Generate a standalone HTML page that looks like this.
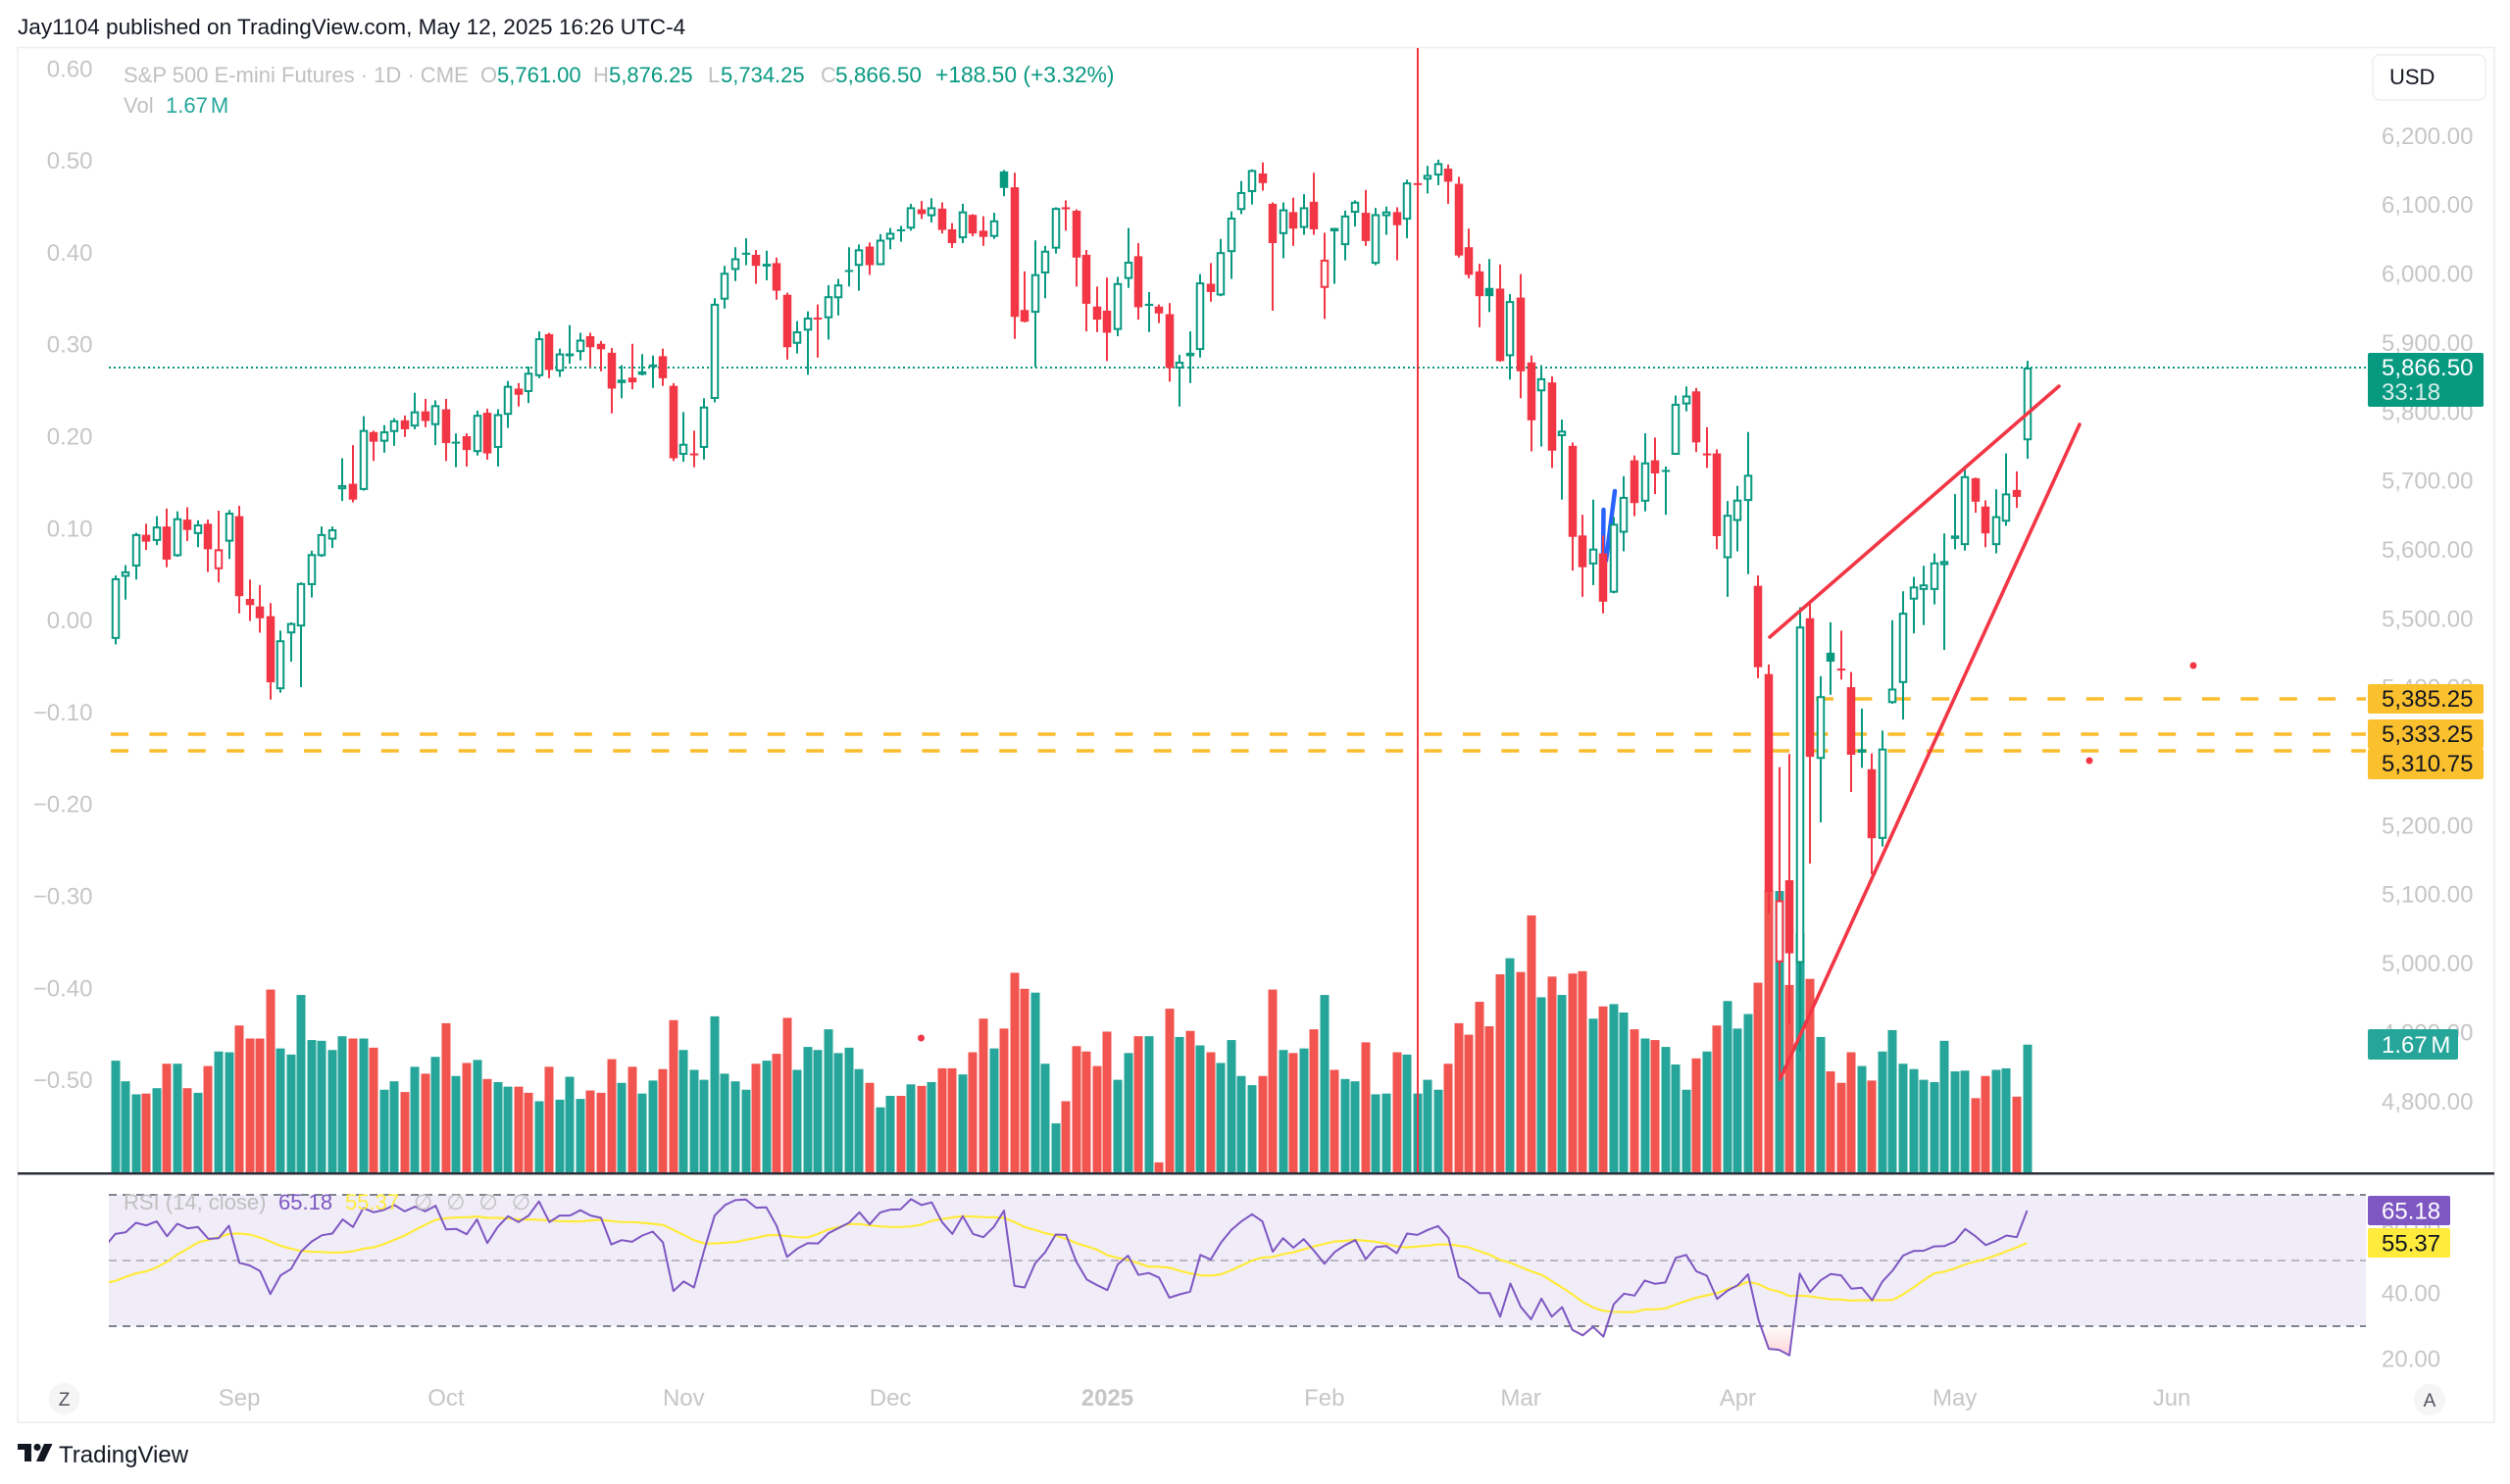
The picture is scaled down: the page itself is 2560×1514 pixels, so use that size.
<!DOCTYPE html>
<html lang="en">
<head>
<meta charset="utf-8">
<title>S&amp;P 500 E-mini Futures chart</title>
<style>
html,body{margin:0;padding:0;background:#fff;width:2560px;height:1514px;overflow:hidden}
svg{display:block;font-family:"Liberation Sans",sans-serif}
text{white-space:pre}
.lbl{fill:#c6c6c6;font-size:24px}
.lg{font-size:22px}
.gy{fill:#c0c0c0}
.gn{fill:#089981}
</style>
</head>
<body>
<svg id="chart" xmlns="http://www.w3.org/2000/svg" width="2560" height="1514" viewBox="0 0 2560 1514">
  <defs>
    <clipPath id="paneClip"><rect x="111" y="1200" width="2302" height="220"/></clipPath>
    <clipPath id="oversoldClip"><rect x="111" y="1353" width="2302" height="60"/></clipPath>
    <linearGradient id="oversoldFill" x1="0" y1="1353" x2="0" y2="1388" gradientUnits="userSpaceOnUse">
      <stop offset="0" stop-color="#f23645" stop-opacity="0.02"/>
      <stop offset="1" stop-color="#f23645" stop-opacity="0.25"/>
    </linearGradient>
  </defs>
  <text x="18" y="35" font-size="22.6" fill="#131722">Jay1104 published on TradingView.com, May 12, 2025 16:26 UTC-4</text>
  <rect x="18" y="48.5" width="2526" height="1402.5" fill="#fff" stroke="#eeeeee" stroke-width="1.5"/>
  <rect x="111" y="1219" width="2302" height="134" fill="#f0ecf8"/>
  <g id="axisLabels"></g>
  <g id="volumes"></g>
  <line x1="111" x2="2413" y1="749" y2="749" stroke="#fbbc2e" stroke-width="3.5" stroke-dasharray="18 21.4" stroke-dashoffset="-2"/>
  <line x1="111" x2="2413" y1="766" y2="766" stroke="#fbbc2e" stroke-width="3.5" stroke-dasharray="18 21.4" stroke-dashoffset="-2"/>
  <line x1="1852" x2="2413" y1="713" y2="713" stroke="#fbbc2e" stroke-width="3.5" stroke-dasharray="18 21.4"/>
  <line x1="111" x2="2413" y1="375" y2="375" stroke="#089981" stroke-width="2" stroke-dasharray="2 3"/>
  <path d="M1635.5 520 L1635 565 L1638 572 L1647 501" fill="none" stroke="#2962ff" stroke-width="4.5" stroke-linecap="round" stroke-linejoin="round"/>
  <g id="candles"></g>
  <line x1="1446" x2="1446" y1="49" y2="1197" stroke="#f23645" stroke-width="2"/>
  <line x1="1805" y1="650" x2="2100" y2="394" stroke="#f23645" stroke-width="3.6" stroke-linecap="round"/>
  <line x1="1816" y1="1100" x2="2121" y2="433" stroke="#f23645" stroke-width="3.6" stroke-linecap="round"/>
  <circle cx="2237" cy="679" r="3.5" fill="#f23645"/>
  <circle cx="2131" cy="776" r="3.5" fill="#f23645"/>
  <circle cx="939.5" cy="1059" r="3.5" fill="#f23645"/>
  <rect x="18" y="1196" width="2526" height="2.5" fill="#2a2e39"/>
  <g id="rsiPane" clip-path="url(#paneClip)">
    <line x1="111" x2="2413" y1="1219" y2="1219" stroke="#808390" stroke-width="2" stroke-dasharray="8 6"/>
    <line x1="111" x2="2413" y1="1286" y2="1286" stroke="#b9b7c2" stroke-width="2" stroke-dasharray="8 6"/>
    <line x1="111" x2="2413" y1="1353" y2="1353" stroke="#808390" stroke-width="2" stroke-dasharray="8 6"/>
    <path id="oversoldArea" fill="url(#oversoldFill)" clip-path="url(#oversoldClip)"/>
    <path id="rsiMaLine" fill="none" stroke="#ffeb3b" stroke-width="2.2" stroke-linejoin="round"/>
    <path id="rsiLine" fill="none" stroke="#7e57c2" stroke-width="2" stroke-linejoin="round"/>
  </g>

  <g class="lg">
    <text class="gy" x="126" y="84">S&amp;P 500 E-mini Futures · 1D · CME</text>
    <text class="gy" x="490" y="84">O</text>
    <text class="gn" x="507" y="84">5,761.00</text>
    <text class="gy" x="605" y="84">H</text>
    <text class="gn" x="621" y="84">5,876.25</text>
    <text class="gy" x="722" y="84">L</text>
    <text class="gn" x="735" y="84">5,734.25</text>
    <text class="gy" x="837" y="84">C</text>
    <text class="gn" x="852" y="84" font-size="22.6">5,866.50</text>
    <text class="gn" x="954" y="84" font-size="22.8">+188.50 (+3.32%)</text>
    <text class="gy" x="126" y="115">Vol</text>
    <text fill="#26a69a" x="169" y="115" word-spacing="-3">1.67 M</text>
  </g>
  <g class="lg">
    <text class="gy" x="126" y="1234">RSI (14, close)</text>
    <text fill="#7e57c2" x="284" y="1234">65.18</text>
    <text fill="#ffeb3b" x="352" y="1234">55.37</text>
    <text class="gy" x="422" y="1234" word-spacing="8">∅ ∅ ∅ ∅</text>
  </g>

  <g>
    <rect x="2420" y="56" width="115" height="46" rx="7" fill="#fff" stroke="#eeeeee" stroke-width="1.5"/>
    <text x="2437" y="86" font-size="22" fill="#131722">USD</text>
  </g>
  <g>
    <rect x="2415" y="360" width="118" height="55" rx="2" fill="#089981"/>
    <text x="2429" y="383" font-size="24" fill="#fff">5,866.50</text>
    <text x="2429" y="408" font-size="24" fill="#d6efe9">33:18</text>
  </g>
  <g>
    <rect x="2415" y="698" width="118" height="30" rx="2" fill="#fbc02d"/>
    <text x="2429" y="721" font-size="24" fill="#131722">5,385.25</text>
  </g>
  <g>
    <rect x="2415" y="764" width="118" height="31" rx="2" fill="#fbc02d"/>
    <text x="2429" y="787" font-size="24" fill="#131722">5,310.75</text>
  </g>
  <g>
    <rect x="2415" y="734" width="118" height="30" rx="2" fill="#fbc02d"/>
    <text x="2429" y="757" font-size="24" fill="#131722">5,333.25</text>
  </g>
  <g>
    <rect x="2415" y="1050" width="92" height="31" rx="2" fill="#26a69a"/>
    <text x="2429" y="1074" font-size="24" fill="#fff" word-spacing="-3">1.67 M</text>
  </g>
  <g>
    <rect x="2415" y="1220" width="84" height="30" rx="2" fill="#7e57c2"/>
    <text x="2429" y="1243.5" font-size="24" fill="#fff">65.18</text>
  </g>
  <g>
    <rect x="2415" y="1253" width="84" height="30" rx="2" fill="#ffeb3b"/>
    <text x="2429" y="1276.5" font-size="24" fill="#131722">55.37</text>
  </g>
  <g>
    <circle cx="65.5" cy="1427" r="16" fill="#f5f5f5"/>
    <text x="65.5" y="1434" font-size="19" text-anchor="middle" fill="#50535e">Z</text>
  </g>
  <g>
    <circle cx="2478" cy="1428" r="16" fill="#f5f5f5"/>
    <text x="2478" y="1435" font-size="19" text-anchor="middle" fill="#50535e">A</text>
  </g>
  <g>
    <g transform="translate(18,1467)" fill="#131722">
      <path d="M14 6H0v6h7v12h7V6Z"/>
      <circle cx="20" cy="9.5" r="3.6"/>
      <path d="M27 24h-8l8-18h8.5L27 24Z"/>
    </g>
    <text x="60" y="1492" font-size="24" fill="#131722">TradingView</text>
  </g>
</svg>
<script>
const opens = [5473,5563,5578,5624,5615,5636,5593,5646,5625,5640,
5574,5614,5651,5531,5520,5506,5400,5481,5491,5551,
5593,5617,5690,5698,5689,5773,5759,5773,5790,5781,
5803,5783,5806,5758,5767,5744,5801,5750,5798,5836,
5831,5854,5915,5861,5883,5889,5912,5901,5888,5844,
5852,5856,5871,5883,5840,5740,5742,5750,5821,5965,
6008,6032,6030,6017,6018,5972,5901,5920,5939,5938,
5967,6006,6014,6042,6015,6052,6065,6068,6096,6086,
6097,6067,6054,6088,6065,6056,6151,6128,5950,5946,
6003,6039,6099,6094,6030,5955,5949,5921,5995,6028,
5959,5955,5944,5865,5888,5892,5988,5971,6034,6095,
6121,6148,6104,6060,6092,6069,6107,5982,6069,6044,
6091,6091,6017,6086,6092,6081,6134,6139,6145,6155,
6133,6041,6006,5982,5981,5883,5968,5874,5832,5845,
5767,5753,5623,5581,5597,5540,5627,5732,5672,5732,
5718,5740,5813,5832,5742,5742,5590,5644,5673,5550,
5422,5004,5123,5003,5503,5299,5453,5430,5403,5308,
5284,5183,5380,5409,5530,5544,5544,5580,5618,5609,
5706,5665,5609,5643,5689,5761];
const highs = [5565,5580,5627,5640,5651,5662,5658,5664,5645,5646,
5659,5660,5666,5559,5551,5525,5485,5497,5555,5601,
5636,5636,5735,5754,5796,5775,5783,5793,5797,5830,
5821,5819,5821,5771,5771,5804,5807,5806,5847,5844,
5868,5919,5917,5894,5928,5917,5917,5905,5895,5870,
5901,5886,5884,5894,5844,5802,5775,5822,5967,6014,
6041,6054,6037,6036,6026,5975,5934,5948,5958,5986,
5995,6041,6045,6048,6060,6069,6072,6104,6108,6112,
6106,6076,6104,6089,6086,6091,6153,6149,6006,6051,
6043,6099,6109,6096,6037,5984,5997,5998,6069,6047,
5976,5958,5960,5885,5919,6002,6018,6053,6093,6137,
6154,6164,6106,6106,6113,6118,6149,6062,6069,6094,
6109,6124,6098,6100,6099,6139,6137,6159,6168,6161,
6143,6068,6017,6024,6016,5973,6002,5884,5870,5854,
5791,5758,5653,5675,5623,5650,5709,5739,5771,5765,
5723,5826,5839,5837,5780,5748,5673,5695,5773,5565,
5436,5287,5306,5519,5524,5419,5497,5485,5425,5372,
5307,5340,5500,5542,5563,5579,5597,5626,5683,5724,
5707,5674,5690,5742,5716,5876.25];
const lows = [5465,5530,5559,5602,5609,5577,5592,5615,5606,5570,
5555,5589,5510,5499,5482,5385,5395,5440,5403,5533,
5592,5605,5673,5671,5688,5731,5743,5753,5766,5777,
5780,5754,5731,5722,5723,5739,5733,5723,5779,5810,
5815,5851,5851,5853,5872,5877,5867,5861,5800,5822,
5835,5855,5837,5840,5731,5730,5722,5733,5816,5952,
5992,6015,5988,5993,5965,5878,5887,5856,5881,5907,
5942,5984,5978,6001,6015,6038,6049,6065,6082,6077,
6061,6040,6047,6057,6043,6053,6115,5908,5932,5867,
5967,6032,6065,5984,5919,5918,5876,5912,5982,5936,
5918,5931,5846,5810,5844,5881,5962,5970,5995,6089,
6103,6123,5949,6025,6043,6059,6059,5937,5988,6022,
6071,6043,6015,6059,6022,6054,6131,6119,6131,6104,
6026,5996,5925,5947,5875,5849,5822,5745,5752,5721,
5675,5572,5534,5551,5510,5539,5600,5651,5658,5683,
5653,5740,5803,5744,5721,5603,5534,5600,5567,5416,
5075,4832,4915,4875,5147,5207,5392,5414,5251,5286,
5132,5172,5379,5356,5481,5493,5523,5457,5603,5601,
5656,5606,5597,5637,5663,5734.25];
const closes = [5561,5571,5625,5614,5636,5588,5648,5631,5639,5603,
5603,5656,5535,5522,5503,5410,5471,5496,5554,5596,
5625,5632,5696,5675,5776,5759,5774,5790,5777,5803,
5789,5812,5757,5759,5747,5798,5742,5799,5840,5827,
5859,5909,5863,5887,5887,5907,5896,5893,5836,5849,
5845,5861,5867,5851,5735,5756,5741,5810,5959,6004,
6025,6033,6014,6013,5978,5896,5919,5939,5937,5970,
5987,6008,6038,6015,6052,6062,6067,6099,6089,6099,
6066,6047,6093,6061,6056,6080,6127,5940,5933,6002,
6036,6098,6096,6026,5959,5936,5917,5989,6020,5954,
5956,5945,5866,5875,5883,5990,5976,6034,6084,6121,
6153,6134,6047,6096,6068,6099,6067,6023,6064,6087,
6107,6050,6089,6093,6073,6135,6132,6146,6163,6136,
6029,6001,5970,5970,5876,5963,5861,5790,5851,5746,
5775,5621,5577,5604,5527,5640,5679,5670,5729,5713,
5716,5814,5826,5758,5740,5622,5653,5675,5711,5432,
5106,5094,5017,5491,5302,5390,5440,5428,5305,5313,
5184,5314,5401,5511,5549,5552,5584,5586,5623,5709,
5672,5626,5651,5684,5679,5866.5];
const candleTone = ["g","g","g","r","g","r","g","r","g","r",
"r","g","r","r","r","r","g","g","g","g",
"g","g","g","r","g","r","g","g","r","g",
"r","g","r","g","r","g","r","g","g","r",
"g","g","r","g","g","g","r","r","r","g",
"r","g","g","r","r","g","r","g","g","g",
"g","g","r","g","r","r","g","g","r","g",
"g","g","g","r","g","g","g","g","r","g",
"r","r","g","r","r","g","g","r","r","g",
"g","g","r","r","r","r","r","g","g","r",
"g","r","r","g","g","g","r","g","g","g",
"g","r","r","g","r","g","r","r","g","g",
"g","r","g","g","r","g","r","g","g","r",
"r","r","r","g","r","g","r","r","g","r",
"g","r","r","g","r","g","g","r","g","r",
"g","g","g","r","r","r","g","g","g","r",
"r","r","r","g","r","g","g","r","r","g",
"r","g","g","g","g","g","g","g","g","g",
"r","r","g","g","r","g"];
const volumes = [1.46,1.19,1.02,1.03,1.10,1.42,1.42,1.10,1.04,1.39,
1.58,1.57,1.92,1.75,1.75,2.39,1.62,1.54,2.32,1.73,
1.72,1.60,1.78,1.75,1.75,1.63,1.08,1.19,1.05,1.38,
1.29,1.51,1.95,1.26,1.43,1.47,1.22,1.18,1.12,1.12,
1.04,0.93,1.38,0.95,1.25,0.96,1.07,1.04,1.48,1.17,
1.38,1.03,1.20,1.35,1.99,1.60,1.34,1.21,2.04,1.29,
1.19,1.08,1.42,1.46,1.55,2.02,1.34,1.64,1.60,1.87,
1.56,1.63,1.35,1.17,0.85,1.00,1.00,1.15,1.13,1.18,
1.36,1.36,1.28,1.57,2.01,1.62,1.88,2.61,2.40,2.35,
1.42,0.64,0.93,1.65,1.58,1.39,1.84,1.21,1.56,1.78,
1.78,0.13,2.14,1.77,1.85,1.66,1.57,1.43,1.73,1.26,
1.14,1.26,2.39,1.60,1.56,1.62,1.87,2.32,1.34,1.22,
1.19,1.70,1.02,1.03,1.57,1.54,1.03,1.21,1.08,1.42,
1.95,1.80,2.23,1.91,2.59,2.80,2.62,3.36,2.29,2.56,
2.32,2.60,2.63,2.01,2.17,2.20,2.09,1.87,1.75,1.73,
1.64,1.41,1.08,1.49,1.58,1.92,2.24,1.88,2.07,2.48,
3.69,3.68,2.45,3.13,2.53,1.77,1.32,1.17,1.57,1.39,
1.20,1.58,1.86,1.42,1.35,1.21,1.18,1.72,1.32,1.33,
0.97,1.26,1.34,1.36,0.99,1.67];
const volumeTone = ["g","g","g","r","g","r","g","r","g","r",
"g","g","r","r","r","r","g","g","g","g",
"g","g","g","r","g","r","g","g","r","g",
"r","g","r","g","r","g","r","g","g","r",
"r","g","r","g","g","g","r","r","r","g",
"r","g","g","r","r","g","g","g","g","g",
"g","g","r","g","r","r","g","g","g","g",
"g","g","g","r","g","g","r","g","r","g",
"r","r","g","r","r","g","r","r","r","g",
"g","g","r","r","r","r","r","g","g","r",
"g","r","r","g","r","g","r","g","g","g",
"g","r","r","g","r","g","r","g","r","g",
"g","r","g","g","r","g","g","g","g","r",
"r","r","r","r","r","g","r","r","g","r",
"g","r","r","g","r","g","g","r","g","r",
"g","g","g","r","g","r","g","g","g","r",
"r","g","r","g","r","g","r","r","r","g",
"r","g","g","g","g","g","g","g","g","g",
"r","r","g","g","r","g"];
/* RSI series begin one session before the first visible candle */
const rsiValues = [54.3,58.1,58.6,61.5,60.7,61.9,57.4,61.2,59.8,60.2,56.6,
56.8,60.6,49.3,48.5,46.8,39.8,45.5,47.4,52.8,55.8,
57.7,58.2,62.5,60.2,66.0,64.7,65.4,66.9,65.0,66.4,
65.0,66.7,59.5,59.6,58.0,62.5,55.3,60.2,63.5,61.7,
63.7,68.0,61.7,63.7,63.7,65.3,63.7,63.0,54.9,56.2,
55.7,57.6,58.8,55.5,40.7,43.6,41.8,53.3,63.7,66.9,
68.4,68.6,66.1,66.2,60.5,51.1,53.6,55.3,55.2,58.3,
59.9,61.5,64.7,61.0,64.6,65.5,65.6,68.7,66.9,67.7,
61.7,58.1,63.5,58.1,57.1,60.2,65.2,42.3,41.8,49.1,
52.6,57.9,57.8,49.6,44.2,42.5,41.0,48.8,51.5,45.6,
46.2,44.8,38.7,39.7,40.5,51.7,50.3,55.5,59.3,62.0,
64.1,61.9,52.7,56.8,53.9,56.5,53.0,49.0,52.6,54.7,
56.2,50.4,54.1,54.4,52.2,58.2,57.8,59.3,60.5,56.9,
45.0,42.8,40.1,40.1,32.9,43.0,35.9,32.1,38.4,32.9,
35.8,28.9,27.2,29.8,26.8,36.7,39.9,39.3,43.9,42.9,
43.3,50.8,51.7,46.7,45.4,38.3,40.8,42.5,45.8,31.9,
23.1,22.8,21.1,46.0,40.4,43.9,45.9,45.5,41.4,41.7,
37.9,43.6,47.0,51.5,52.9,53.0,54.3,54.4,55.8,59.6,
57.4,54.7,56.0,57.6,57.1,65.18];
const rsiMaValues = [43.2,43.8,45.0,46.1,46.7,47.9,49.6,51.8,53.6,55.5,56.3,
57.1,58.1,58.2,57.9,57.0,55.8,54.5,53.6,52.9,52.7,
52.6,52.4,52.5,52.8,53.6,54.0,55.0,56.3,57.6,59.3,
60.9,62.4,62.9,63.1,63.2,63.4,63.0,63.0,62.8,62.5,
62.5,62.4,62.2,62.0,61.9,61.9,62.2,62.4,62.0,61.7,
61.7,61.5,61.2,60.8,59.3,57.8,56.2,55.2,55.2,55.4,
55.6,56.3,56.9,57.6,57.8,57.4,57.1,57.0,58.1,59.5,
60.2,61.1,61.1,60.7,60.4,60.2,60.2,60.4,60.9,62.1,
62.6,63.1,63.5,63.4,63.2,63.2,63.0,61.7,60.2,59.3,
58.3,57.6,56.6,55.3,54.3,53.3,51.6,50.8,50.2,49.2,
48.1,48.1,47.8,46.9,46.1,45.5,45.4,45.8,47.0,48.5,
50.0,50.9,51.1,51.9,52.5,53.4,54.3,55.1,55.8,56.0,
56.3,56.0,55.7,55.1,54.3,54.0,54.3,54.5,54.9,54.9,
54.5,54.0,52.8,51.8,50.2,49.3,48.0,46.7,45.7,43.7,
41.8,39.7,37.4,35.7,34.7,34.4,34.3,34.3,35.1,35.1,
35.4,36.6,37.7,38.7,39.4,40.1,41.3,42.3,43.5,42.8,
41.3,40.5,39.2,39.3,39.1,38.6,38.2,38.1,37.8,37.9,
37.9,37.9,38.0,39.7,41.8,44.0,46.1,46.6,47.6,48.8,
49.7,50.5,51.6,52.8,54.0,55.37];
const priceTicks = [6200,6100,6000,5900,5800,5700,5600,5500,5400,5200,5100,5000,4900,4800];
const leftTicks = [0.6,0.5,0.4,0.3,0.2,0.1,0,-0.1,-0.2,-0.3,-0.4,-0.5];
const rsiTicks = [60,40,20];
const monthLabels = ["Sep","Oct","Nov","Dec","2025","Feb","Mar","Apr","May","Jun"];
const monthBars = [12,32,55,75,96,117,136,157,178,199];

const NS = "http://www.w3.org/2000/svg";
const COLORS = { g: "#089981", r: "#f23645" };
const VOLUME_COLORS = { g: "#26a69a", r: "#f2544f" };

function xBar(i) { return 117.6 + i * 10.54; }
function yPrice(p) { return 375 + (5866.5 - p) * 0.7035; }
function yLeft(v) { return 70.3 + (0.6 - v) * 938; }
function yRsi(v) { return 1286 - (v - 50) * 3.35; }
function yVolume(v) { return 1196 - v * 78; }

function make(parent, tag, attrs, txt) {
  const el = document.createElementNS(NS, tag);
  for (const k in attrs) el.setAttribute(k, attrs[k]);
  if (txt !== undefined) el.textContent = txt;
  parent.appendChild(el);
  return el;
}

const axisG = document.getElementById("axisLabels");
priceTicks.forEach(function (p) {
  const t = make(axisG, "text", { x: 2429, y: yPrice(p) + 6.5, class: "lbl" }, p.toLocaleString("en-US", { minimumFractionDigits: 2 }));
  
  
});
leftTicks.forEach(function (v) {
  const s = (v < 0 ? "\u2212" : "") + Math.abs(v).toFixed(2);
  const t = make(axisG, "text", { x: 94.5, y: yLeft(v) + 8, class: "lbl", "text-anchor": "end" }, s);
  
  
});
rsiTicks.forEach(function (v) {
  const t = make(axisG, "text", { x: 2429, y: yRsi(v) + 8, class: "lbl" }, v.toFixed(2));
  
  
});
monthLabels.forEach(function (m, i) {
  const attrs = { x: xBar(monthBars[i]), y: 1434, class: "lbl", "text-anchor": "middle" };
  if (m === "2025") attrs["font-weight"] = "bold";
  const t = make(axisG, "text", attrs, m);
  
  
});

const volG = document.getElementById("volumes");
volumes.forEach(function (v, i) {
  const y = yVolume(v);
  const r = make(volG, "rect", { x: Math.round(xBar(i)) - 4.5, y: y, width: 9, height: 1196 - y, fill: VOLUME_COLORS[volumeTone[i]] });
  
  
});

const candleG = document.getElementById("candles");
closes.forEach(function (c, i) {
  const cx = Math.round(xBar(i));
  const col = COLORS[candleTone[i]];
  const g = make(candleG, "g", {});
  
  
  make(g, "line", { x1: cx, x2: cx, y1: yPrice(highs[i]), y2: yPrice(lows[i]), stroke: col, "stroke-width": 2 });
  const o = opens[i];
  const yTop = yPrice(Math.max(o, c));
  const yBot = yPrice(Math.min(o, c));
  if (c > o && yBot - yTop > 3) {
    make(g, "rect", { x: cx - 3.25, y: yTop + 1, width: 6.5, height: yBot - yTop - 2, fill: "#fff", stroke: col, "stroke-width": 2 });
  } else {
    make(g, "rect", { x: cx - 4.25, y: yTop, width: 8.5, height: Math.max(yBot - yTop, 2), fill: col });
  }
});

function rsiPath(series) {
  return series.map(function (v, i) {
    return (i ? "L" : "M") + xBar(i - 1).toFixed(1) + " " + yRsi(v).toFixed(1);
  }).join(" ");
}
document.getElementById("rsiLine").setAttribute("d", rsiPath(rsiValues));
document.getElementById("rsiMaLine").setAttribute("d", rsiPath(rsiMaValues));
document.getElementById("oversoldArea").setAttribute("d", rsiPath(rsiValues) + " L" + xBar(rsiValues.length - 2) + " " + yRsi(30) + " L" + xBar(-1) + " " + yRsi(30) + " Z");
</script>
</body>
</html>
